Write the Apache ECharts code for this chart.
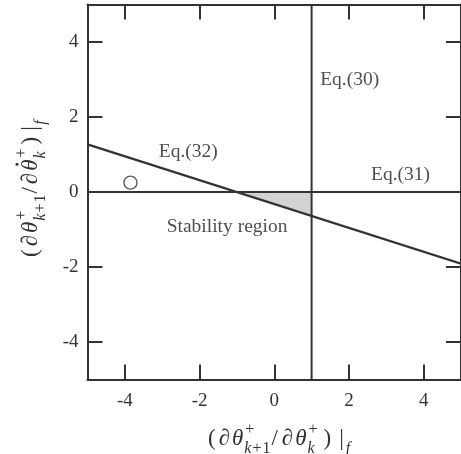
<!DOCTYPE html>
<html>
<head>
<meta charset="utf-8">
<script src="https://cdn.jsdelivr.net/npm/echarts@6/dist/echarts.min.js"></script>
<style>
  html, body { margin: 0; padding: 0; background: #fff; }
  #chart { width: 461px; height: 454px; }
</style>
</head>
<body>
<div id="chart"></div>
<script>
// Axis ticks
const xTicks = [-4, -2, 0, 2, 4];
const yTicks = [-4, -2, 0, 2, 4];

// Boundary lines of the stability map
const eq30 = [[1, -5], [1, 5]];          // vertical boundary
const eq31 = [[-5, 0], [5, 0]];          // horizontal boundary
const eq32 = [[-5, 1.27], [5, -1.91]];   // sloped boundary

// Shaded stability region (triangle between the three boundaries)
const stableRegion = [[-1, 0], [1, 0], [1, -0.64]];

// Open circle marker
const circlePoint = [[-3.85, 0.25]];

// Text annotations: [x, y, text]
const notes = [
  [1.23, 3.0, 'Eq.(30)'],
  [-3.09, 1.07, 'Eq.(32)'],
  [2.59, 0.45, 'Eq.(31)'],
  [-2.88, -0.93, 'Stability region']
];

const INK = '#333';
const FAMILY = 'Liberation Serif';

// --- small math-text layout for the axis titles ---
const ctx = document.createElement('canvas').getContext('2d');
function textW(r) {
  ctx.font = (r.it ? 'italic ' : 'normal ') + r.s + 'px "' + FAMILY + '"';
  return ctx.measureText(r.t).width;
}
function placeRuns(runs, x, dy, out) {
  runs.forEach(r => {
    x += r.g || 0;
    out.push({
      type: 'text', x: x, y: dy,
      style: { text: r.t, fontSize: r.s, fontFamily: FAMILY,
               fontStyle: r.it ? 'italic' : 'normal', fill: INK,
               align: 'left', verticalAlign: 'middle' }
    });
    x += textW(r);
  });
  return x;
}
function buildMath(items, supDy, subDy) {
  const out = [];
  let x = 0;
  items.forEach(it => {
    x += it.g || 0;
    if (it.sup || it.sub) {
      const x1 = it.sup ? placeRuns(it.sup, x, supDy, out) : x;
      const x2 = it.sub ? placeRuns(it.sub, x, subDy, out) : x;
      x = Math.max(x1, x2);
    } else {
      const x0 = x;
      x = placeRuns([it], x, 0, out);
      if (it.dot) {
        out.push({ type: 'circle', shape: { cx: x0 + (x - x0) * 0.62, cy: -14, r: 1.5 },
                   style: { fill: INK } });
      }
    }
  });
  return out;
}
const M = 23, S = 16;
const supPlus = [{ t: '+', s: S, g: 1 }];
const subK1 = [{ t: 'k', s: S, it: true }, { t: '+', s: S, g: 1 }, { t: '1', s: S, g: 1 }];
const subK = [{ t: 'k', s: S, it: true }];
const xTitle = buildMath([
  { t: '(', s: M },
  { t: '∂', s: M, it: true, g: 1.5 }, { t: 'θ', s: M, it: true, g: 1 },
  { g: 1, sup: supPlus, sub: subK1 },
  { t: '/', s: M, g: 0.5 },
  { t: '∂', s: M, it: true, g: 2 }, { t: 'θ', s: M, it: true, g: 1 },
  { g: 1, sup: supPlus, sub: subK },
  { t: ')', s: M, g: 3 }, { t: '|', s: M, g: 4 },
  { g: 2, sub: [{ t: 'f', s: S, it: true }] }
], -9, 10);
const yTitle = buildMath([
  { t: '(', s: M },
  { t: '∂', s: M, it: true, g: 1.5 }, { t: 'θ', s: M, it: true, g: 1 },
  { g: 1, sup: supPlus, sub: subK1 },
  { t: '/', s: M, g: 0.5 },
  { t: '∂', s: M, it: true, g: 1.5 }, { t: 'θ', s: M, it: true, g: 1, dot: true },
  { g: 1, sup: supPlus, sub: subK },
  { t: ')', s: M, g: 2 }, { t: '|', s: M, g: 3 },
  { g: 1.5, sub: [{ t: 'f', s: S, it: true }] }
], -9, 10);

const axisLine = { show: true, onZero: false, lineStyle: { color: INK, width: 2 } };
const tickStyle = { show: true, inside: true, length: 15, lineStyle: { color: INK, width: 2 } };
const labelFont = { fontFamily: FAMILY, fontSize: 19, color: INK };

const chart = echarts.init(document.getElementById('chart'), null, { renderer: 'canvas' });
chart.setOption({
  animation: false,
  backgroundColor: '#fff',
  grid: { left: 87.5, right: -1.5, top: 4.5, bottom: 74.5, containLabel: false },
  xAxis: [
    { type: 'value', min: -5, max: 5, position: 'bottom',
      axisLine: axisLine,
      axisTick: Object.assign({ customValues: xTicks }, tickStyle),
      axisLabel: Object.assign({ customValues: xTicks, margin: 12 }, labelFont),
      splitLine: { show: false } },
    { type: 'value', min: -5, max: 5, position: 'top',
      axisLine: axisLine,
      axisTick: Object.assign({ customValues: xTicks }, tickStyle),
      axisLabel: { show: false }, splitLine: { show: false } }
  ],
  yAxis: [
    { type: 'value', min: -5, max: 5, position: 'left',
      axisLine: axisLine,
      axisTick: Object.assign({ customValues: yTicks }, tickStyle),
      axisLabel: Object.assign({ customValues: yTicks, margin: 9 }, labelFont),
      splitLine: { show: false } },
    { type: 'value', min: -5, max: 5, position: 'right',
      axisLine: axisLine,
      axisTick: Object.assign({ customValues: yTicks }, tickStyle),
      axisLabel: { show: false }, splitLine: { show: false } }
  ],
  series: [
    {
      type: 'custom', name: 'Stability region', z: 1,
      data: [0],
      renderItem: function (params, api) {
        const pts = stableRegion.map(p => api.coord(p));
        return { type: 'polygon', shape: { points: pts },
                 style: { fill: '#d2d3d5', stroke: null } };
      }
    },
    { type: 'line', name: 'Eq.(30)', data: eq30, showSymbol: false, symbol: 'none', z: 3,
      lineStyle: { color: INK, width: 2 } },
    { type: 'line', name: 'Eq.(31)', data: eq31, showSymbol: false, symbol: 'none', z: 3,
      lineStyle: { color: INK, width: 2 } },
    { type: 'line', name: 'Eq.(32)', data: eq32, showSymbol: false, symbol: 'none', z: 3,
      lineStyle: { color: INK, width: 2.2 } },
    { type: 'scatter', name: 'point', data: circlePoint, symbol: 'circle', symbolSize: 13, z: 4,
      itemStyle: { color: '#fff', borderColor: INK, borderWidth: 1.4 } },
    { type: 'scatter', name: 'notes', symbolSize: 0, z: 5, silent: true,
      data: notes.map(n => ({ value: [n[0], n[1]], name: n[2] })),
      label: { show: true, position: 'right', distance: 0, formatter: '{b}',
               fontFamily: FAMILY, fontSize: 19.5, color: '#222' } }
  ],
  graphic: [
    { type: 'group', x: 208, y: 439, children: xTitle },
    { type: 'group', x: 31, y: 257, rotation: Math.PI / 2, children: yTitle }
  ]
});
</script>
</body>
</html>
